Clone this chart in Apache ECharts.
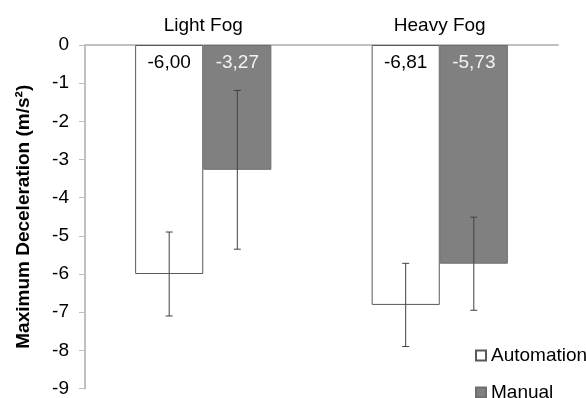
<!DOCTYPE html>
<html>
<head>
<meta charset="utf-8">
<script src="https://cdn.jsdelivr.net/npm/echarts@6/dist/echarts.min.js"></script>
<style>
    html, body { margin: 0; padding: 0; background: #fff; }
    #chart { width: 586px; height: 398px; }
</style>
</head>
<body>
<div id="chart"></div>
<script>
var categories = ['Light Fog', 'Heavy Fog'];
var automation = [-6.00, -6.81];
var manual = [-3.27, -5.73];
var automationErr = [1.10, 1.09];
var manualErr = [2.08, 1.22];
var yTicks = [0, -1, -2, -3, -4, -5, -6, -7, -8, -9];

var BAR_SHARE = 0.288;
var FONT = 'Liberation Sans, Arial, sans-serif';

function errData(values, errs) {
    return values.map(function (v, i) {
        return [i, v - errs[i], v + errs[i]];
    });
}

function errSeries(name, values, errs, side) {
    return {
        name: name,
        type: 'custom',
        data: errData(values, errs),
        z: 10,
        silent: true,
        renderItem: function (params, api) {
            var band = api.size([1, 0])[0];
            var off = side * band * BAR_SHARE / 2;
            var lo = api.coord([api.value(0), api.value(1)]);
            var hi = api.coord([api.value(0), api.value(2)]);
            var x = lo[0] + off;
            var cap = 3.5;
            var st = { stroke: '#404040', lineWidth: 1 };
            return {
                type: 'group',
                children: [
                    { type: 'line', shape: { x1: x, y1: lo[1], x2: x, y2: hi[1] }, style: st },
                    { type: 'line', shape: { x1: x - cap, y1: lo[1], x2: x + cap, y2: lo[1] }, style: st },
                    { type: 'line', shape: { x1: x - cap, y1: hi[1], x2: x + cap, y2: hi[1] }, style: st }
                ]
            };
        }
    };
}

var fmt = function (p) {
    return p.value.toFixed(2).replace('.', ',');
};

function legendItem(name, top) {
    return {
        data: [name],
        left: 475,
        top: top,
        icon: 'rect',
        itemWidth: 10,
        itemHeight: 10,
        padding: 0,
        textStyle: { fontSize: 19, color: '#000', fontFamily: FONT }
    };
}

var myChart = echarts.init(document.getElementById('chart'));

var option = {
    animation: false,
    textStyle: { fontFamily: FONT },
    grid: { left: 85, right: 28, top: 45, bottom: 8 },
    legend: [
        legendItem('Automation', 346),
        legendItem('Manual', 383)
    ],
    xAxis: {
        type: 'category',
        data: categories,
        position: 'top',
        axisLine: { lineStyle: { color: '#c0c0c0', width: 2 } },
        axisTick: { inside: true, length: 5, lineStyle: { color: '#c0c0c0', width: 2 } },
        axisLabel: { fontSize: 19, color: '#000', margin: 10 }
    },
    yAxis: {
        type: 'value',
        min: -9,
        max: 0,
        interval: 1,
        name: 'Maximum Deceleration (m/s²)',
        nameLocation: 'middle',
        nameGap: 52,
        nameTextStyle: { fontSize: 19, fontWeight: 'bold', color: '#000' },
        splitLine: { show: false },
        axisLine: { show: true, lineStyle: { color: '#c0c0c0', width: 2 } },
        axisTick: { show: true, length: 6, lineStyle: { color: '#c0c0c0', width: 1 } },
        axisLabel: {
            fontSize: 19,
            color: '#000',
            margin: 16,
            formatter: function (v) { return yTicks.indexOf(v) >= 0 ? String(v) : ''; }
        }
    },
    series: [
        {
            name: 'Automation',
            type: 'bar',
            data: automation,
            barWidth: (BAR_SHARE * 100) + '%',
            barGap: '0%',
            itemStyle: { color: '#ffffff', borderColor: '#595959', borderWidth: 1 },
            label: {
                show: true,
                position: 'insideTop',
                distance: 8,
                fontSize: 19,
                color: '#000',
                formatter: fmt
            }
        },
        {
            name: 'Manual',
            type: 'bar',
            data: manual,
            barWidth: (BAR_SHARE * 100) + '%',
            barGap: '0%',
            itemStyle: { color: '#808080', borderColor: '#6e6e6e', borderWidth: 1 },
            label: {
                show: true,
                position: 'insideTop',
                distance: 8,
                fontSize: 19,
                color: '#f2f2f2',
                formatter: fmt
            }
        },
        errSeries('autoErr', automation, automationErr, -1),
        errSeries('manualErr', manual, manualErr, 1)
    ]
};

myChart.setOption(option);
</script>
</body>
</html>
